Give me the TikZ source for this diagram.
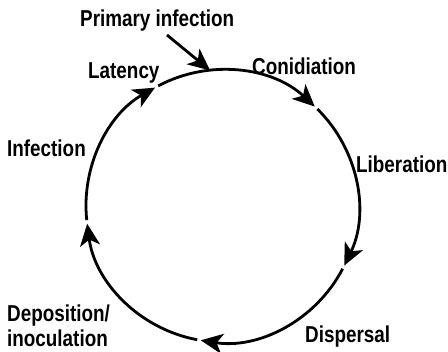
\documentclass[tikz,border=0pt]{standalone}
\usepackage{fontspec}
\setmainfont[FakeStretch=0.82]{Liberation Sans}
\usetikzlibrary{arrows.meta}
\tikzset{
  lbl/.style={anchor=base west, inner sep=0pt, font=\fontsize{23}{25}\selectfont\bfseries},
  cyc/.style={line width=2.8pt, -{Stealth[length=22pt,width=20pt,inset=6pt]}},
}
\begin{document}
\begin{tikzpicture}[x=1pt,y=1pt]
\useasboundingbox (0,0) rectangle (448,352);
\coordinate (c) at (222,146);
% labels
\node[lbl] (prim) at (80,325) {Primary infection};
\node[lbl] (lat) at (88,273) {Latency};
\node[lbl] (con) at (252,277) {Conidiation};
\node[lbl] (inf) at (7,195) {Infection};
\node[lbl] (lib) at (356,179) {Liberation};
\node[lbl] (dep) at (7,30) {Deposition/};
\node[lbl] (ino) at (7,5) {inoculation};
\node[lbl] (dis) at (305,9) {Dispersal};
% cycle arcs
\draw[cyc] ([shift={(118:136)}]c) arc[start angle=118, end angle=47, radius=136];
\draw[cyc] ([shift={(45.5:136)}]c) arc[start angle=45.5, end angle=-26, radius=136];
\draw[cyc] ([shift={(-27.5:136)}]c) arc[start angle=-27.5, end angle=-99, radius=136];
\draw[cyc] ([shift={(-100.5:136)}]c) arc[start angle=-100.5, end angle=-172.5, radius=136];
\draw[cyc] ([shift={(-174:136)}]c) arc[start angle=-174, end angle=-240.5, radius=136];
% primary infection arrow
\coordinate (ps) at (167,317);
\coordinate (pt) at ([shift={(95:136)}]c);
\draw[cyc] (ps) -- (pt);
\end{tikzpicture}
\end{document}
